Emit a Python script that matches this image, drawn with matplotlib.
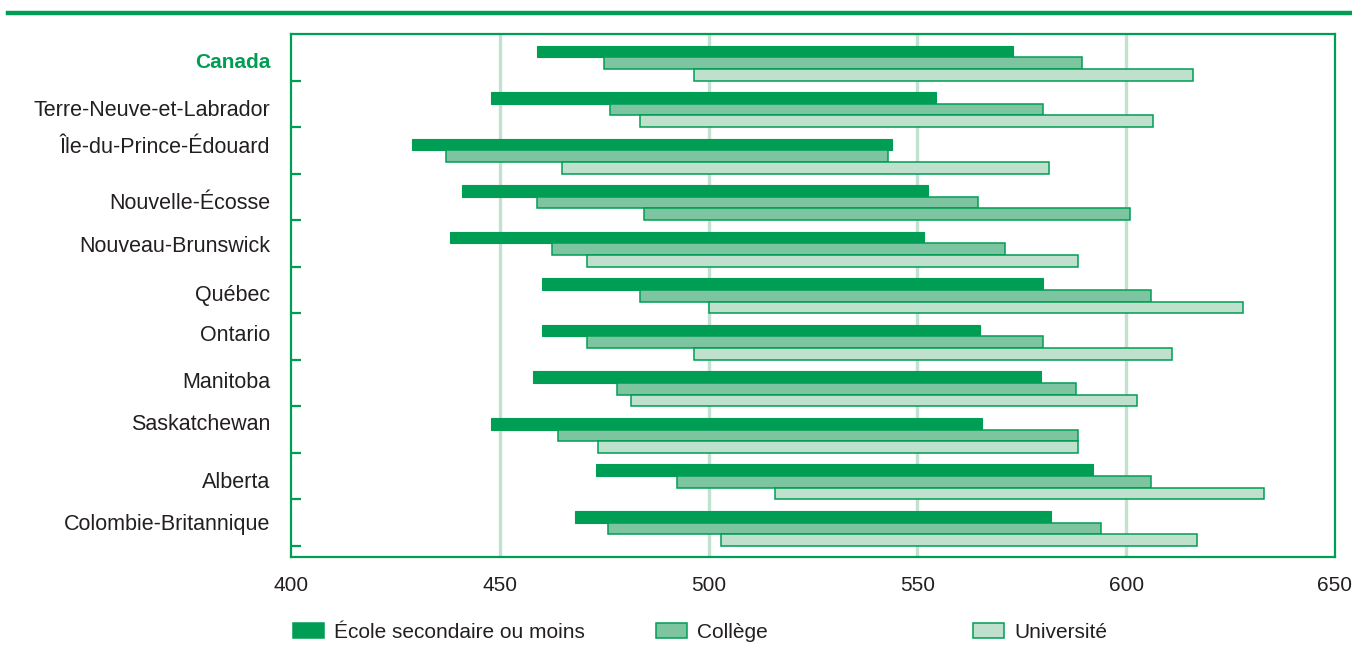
import matplotlib
matplotlib.use("Agg")
import matplotlib.pyplot as plt
from matplotlib.patches import Rectangle
from matplotlib.lines import Line2D

provinces = ["Canada", "Terre-Neuve-et-Labrador", "Île-du-Prince-Édouard",
             "Nouvelle-Écosse", "Nouveau-Brunswick", "Québec", "Ontario",
             "Manitoba", "Saskatchewan", "Alberta", "Colombie-Britannique"]

# each bar runs from a low to a high score
secondaire_lo = [459, 448, 429, 441, 438, 460, 460, 458, 448, 473, 468]
secondaire_hi = [573, 554.5, 544, 552.5, 551.5, 580, 565, 579.5, 565.5, 592, 582]
college_lo = [475, 476.5, 437, 459, 462.5, 483.5, 471, 478, 464, 492.5, 476]
college_hi = [589.5, 580, 543, 564.5, 571, 606, 580, 588, 588.5, 606, 594]
universite_lo = [496.5, 483.5, 465, 484.5, 471, 500, 496.5, 481.5, 473.5, 516, 503]
universite_hi = [616, 606.5, 581.5, 601, 588.5, 628, 611, 602.5, 588.5, 633, 617]

legend_labels = ["École secondaire ou moins", "Collège", "Université"]
xticks = [400, 450, 500, 550, 600, 650]

DARK = "#009e55"
MID = "#7dc4a0"
LIGHT = "#bfe0cc"
GRID = "#c3e1cf"
TEXT = "#231f20"

# Nouvelle-Écosse's université bar is filled like collège in the source
univ_fill = [LIGHT] * len(provinces)
univ_fill[3] = MID

# small vertical nudges of the row labels (in row units)
label_nudge = [0.11, 0.14, -0.06, 0.15, 0.06, 0.11, -0.01, 0.0, -0.11, 0.13, 0.04]

plt.rcParams["font.family"] = ["Liberation Sans", "DejaVu Sans"]

W, H = 1352, 666
fig = plt.figure(figsize=(W / 100, H / 100), dpi=100)
ax = fig.add_axes([291 / W, 1 - 557 / H, (1335 - 291) / W, (557 - 34) / H])

n = len(provinces)
h = 0.25
for i in range(n):
    ax.barh(i + 0.375, secondaire_hi[i] - secondaire_lo[i], left=secondaire_lo[i],
            height=h, color=DARK, edgecolor=DARK, linewidth=0.8, zorder=3)
    ax.barh(i + 0.625, college_hi[i] - college_lo[i], left=college_lo[i],
            height=h, color=MID, edgecolor=DARK, linewidth=1.1, zorder=3)
    ax.barh(i + 0.875, universite_hi[i] - universite_lo[i], left=universite_lo[i],
            height=h, color=univ_fill[i], edgecolor=DARK, linewidth=1.1, zorder=4)

ax.set_xlim(400, 650)
ax.set_ylim(11.24, 0)

for x in xticks[1:-1]:
    ax.axvline(x, color=GRID, linewidth=2.4, zorder=1)

for s in ax.spines.values():
    s.set_color(DARK)
    s.set_linewidth(1.6)

ax.set_xticks(xticks)
ax.set_xticklabels([str(x) for x in xticks], fontsize=15, color=TEXT)
ax.tick_params(axis="x", length=0, pad=14)

ax.set_yticks(range(1, n + 1))
ax.set_yticklabels([])
ax.tick_params(axis="y", direction="in", length=7, width=1.6, color=DARK)

for i, name in enumerate(provinces):
    y = i + 0.5 + label_nudge[i]
    if i == 0:
        ax.text(-0.02, y, name, transform=ax.get_yaxis_transform(), ha="right",
                va="center", fontsize=15, fontweight="bold", color=DARK)
    else:
        ax.text(-0.02, y, name, transform=ax.get_yaxis_transform(), ha="right",
                va="center", fontsize=15.5, color=TEXT)

# top rule of the figure
fig.add_artist(Line2D([8 / W, 1], [1 - 13 / H, 1 - 13 / H], color=DARK, linewidth=3.2))

# legend drawn by hand to keep the uneven spacing
leg_x = [293, 656, 973]
leg_fill = [DARK, MID, LIGHT]
for x, fc, lab in zip(leg_x, leg_fill, legend_labels):
    fig.add_artist(Rectangle((x / W, 1 - 638 / H), 31 / W, 15 / H, transform=fig.transFigure,
                             facecolor=fc, edgecolor=DARK, linewidth=1.1))
    fig.text((x + 41) / W, 1 - 632 / H, lab, ha="left", va="center", fontsize=15, color=TEXT)

fig.savefig("out.png", dpi=100)
